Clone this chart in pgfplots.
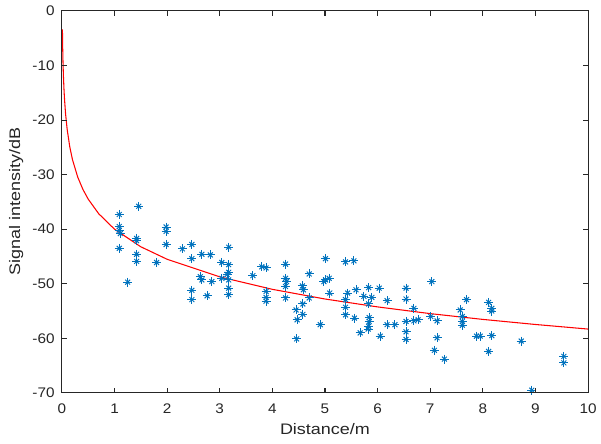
\documentclass[border=0pt]{standalone}
\usepackage{pgfplots}
\pgfplotsset{compat=1.18}
\usepackage{pgfplotstable}
\usepackage{fontspec}
\setmainfont{Liberation Sans}[FakeStretch=1.1]
\newfontfamily\labelfont{Liberation Sans}[FakeStretch=1.18]
\usetikzlibrary{calc}

\definecolor{mblue}{RGB}{0,114,189}
\definecolor{maxis}{RGB}{38,38,38}

\pgfplotstableread{
x y
1.09 -37.3
1.46 -35.8
1.09 -39.5
1.09 -40.2
1.11 -40.8
1.09 -43.5
1.42 -41.7
1.42 -42.1
1.42 -44.6
1.42 -45.9
1.25 -49.7
1.98 -39.6
1.98 -40.4
1.98 -42.8
1.80 -46.1
2.29 -43.6
2.47 -42.8
2.47 -45.4
2.47 -51.2
2.47 -52.9
2.63 -48.7
2.66 -44.6
2.82 -44.7
2.66 -49.3
2.76 -52.2
2.85 -49.6
3.04 -46.1
3.04 -49.0
3.17 -43.3
3.17 -46.5
3.17 -47.9
3.14 -48.3
3.17 -49.3
3.17 -50.8
3.17 -52.0
3.63 -48.5
3.80 -46.9
3.88 -47.1
3.88 -51.4
3.88 -52.5
3.88 -53.2
4.25 -46.4
4.25 -49.0
4.27 -49.6
4.25 -50.5
4.25 -52.6
4.57 -50.4
4.59 -51.1
4.70 -48.2
4.70 -52.6
4.58 -53.7
4.45 -54.8
4.58 -55.6
4.47 -56.6
4.46 -60.1
4.91 -57.5
5.01 -45.4
5.01 -49.3
5.08 -49.0
4.98 -49.6
5.09 -51.7
5.39 -46.0
5.55 -45.8
5.43 -51.7
5.39 -52.9
5.39 -54.3
5.39 -55.7
5.59 -51.1
5.83 -50.7
6.03 -50.8
5.74 -52.3
5.89 -52.5
5.83 -53.7
6.18 -53.1
5.56 -56.3
5.84 -56.2
5.84 -56.9
5.83 -57.8
5.82 -58.3
5.67 -59.0
6.05 -59.6
6.18 -57.5
6.33 -57.5
6.54 -50.8
6.54 -52.8
6.54 -56.9
6.54 -58.8
6.54 -60.2
6.69 -54.5
6.69 -56.8
6.77 -56.6
7.03 -49.6
7.01 -56.0
7.13 -56.8
7.13 -59.9
7.08 -62.2
7.27 -63.8
7.69 -52.9
7.57 -54.8
7.61 -56.0
7.61 -56.9
7.61 -57.6
7.88 -59.6
7.95 -59.6
8.11 -53.4
8.17 -54.5
8.17 -55.0
8.17 -59.5
8.11 -62.4
8.73 -60.5
8.93 -69.5
9.54 -63.3
9.54 -64.5
}\measured

\pgfplotstableread{
x y
0.01 -3.40
0.012 -4.85
0.015 -6.62
0.02 -8.91
0.025 -10.68
0.03 -12.13
0.04 -14.42
0.05 -16.19
0.07 -18.87
0.1 -21.70
0.15 -24.92
0.2 -27.21
0.3 -30.43
0.4 -32.72
0.5 -34.49
0.7 -37.17
1 -40.00
1.5 -43.22
2 -45.51
3 -48.73
4 -51.02
5 -52.79
6 -54.24
7 -55.47
8 -56.53
9 -57.46
10 -58.30
}\fitted

\begin{document}
\begin{tikzpicture}
\begin{axis}[
    name=ax,
    scale only axis,
    width=397pt, height=288.2pt,
    xmin=0, xmax=10, ymin=-70, ymax=0,
    xtick={0,1,2,3,4,5,6,7,8,9,10},
    ytick={-70,-60,-50,-40,-30,-20,-10,0},
    xticklabels={0,1,2,3,4,5,6,7,8,9,10},
    yticklabels={-70,-60,-50,-40,-30,-20,-10,0},
    axis on top,
    axis line style={maxis, line width=0.8pt},
    tick style={maxis, line width=0.8pt},
    major tick length=4pt,
    tick label style={font=\fontsize{10.5}{12}\selectfont, text=maxis},
    xticklabel style={yshift=-5pt},
    yticklabel style={xshift=-2pt},
    xlabel={Distance/m},
    ylabel={Signal intensity/dB},
    xlabel style={font=\labelfont\fontsize{11.5}{13}\selectfont, text=maxis},
    ylabel style={font=\labelfont\fontsize{11.5}{13}\selectfont, text=maxis},
]
\addplot[only marks, mark=+, mark size=3.4pt, mblue, line width=0.75pt] table {\measured};
\addplot[only marks, mark=x, mark size=2.6pt, mblue, line width=0.75pt] table {\measured};
\addplot[red, line width=0.8pt, no marks] table {\fitted};
\end{axis}
% frame and inward ticks, drawn again over the axis box
\draw[maxis, line width=0.8pt] (ax.south west) rectangle (ax.north east);
\foreach \i in {0,...,10} {
  \draw[maxis, line width=0.8pt] ($(ax.south west)!\i/10!(ax.south east)$) -- ++(0,4pt);
  \draw[maxis, line width=0.8pt] ($(ax.north west)!\i/10!(ax.north east)$) -- ++(0,-4pt);
}
\foreach \i in {0,...,7} {
  \draw[maxis, line width=0.8pt] ($(ax.south west)!\i/7!(ax.north west)$) -- ++(4pt,0);
  \draw[maxis, line width=0.8pt] ($(ax.south east)!\i/7!(ax.north east)$) -- ++(-4pt,0);
}
\path ($(ax.south west)+(-46.7pt,-38pt)$) rectangle ($(ax.north east)+(7pt,8.25pt)$);
\end{tikzpicture}
\end{document}
